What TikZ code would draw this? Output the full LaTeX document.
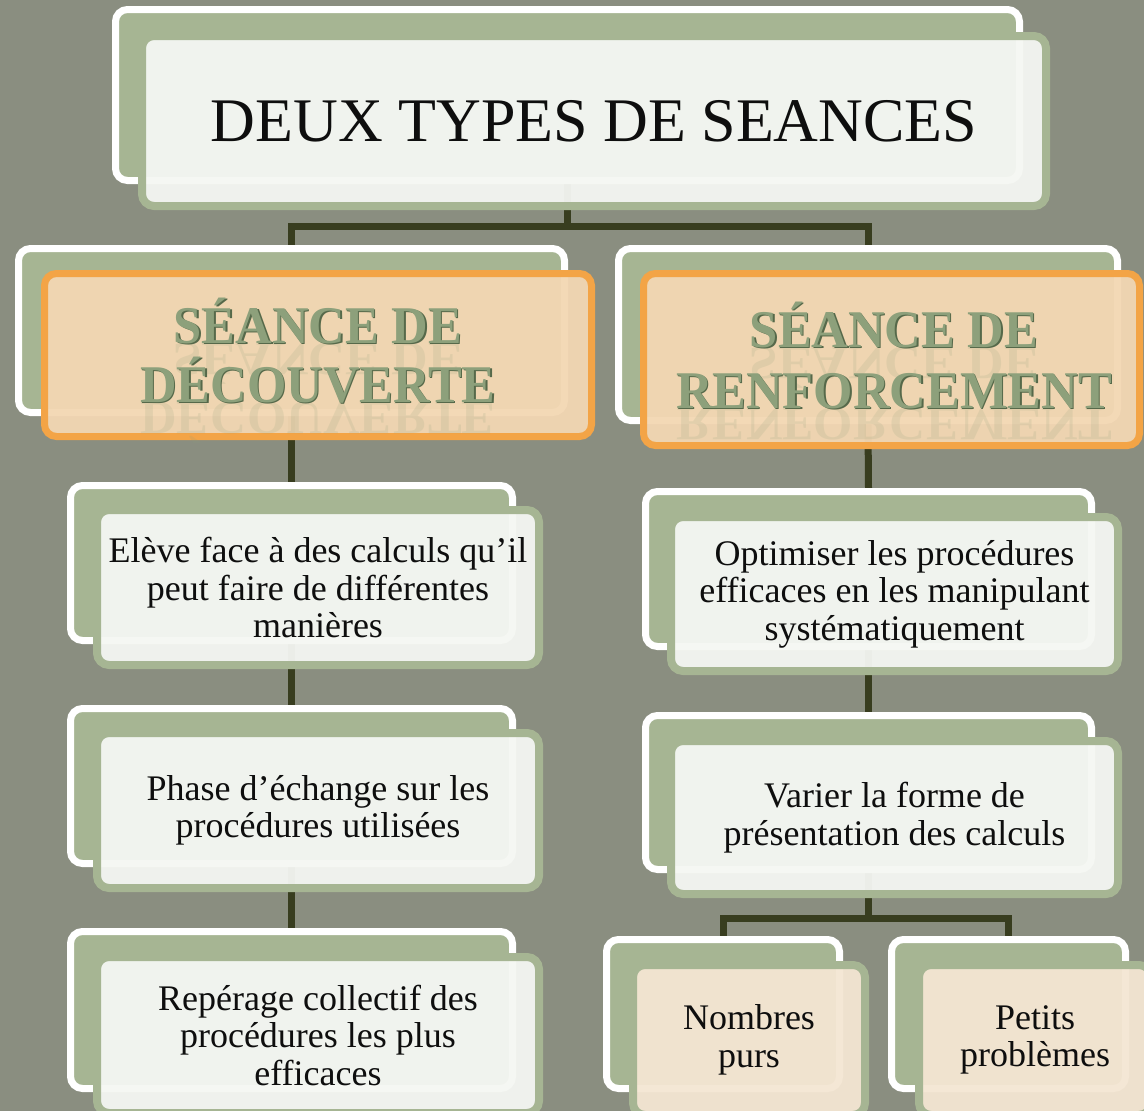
\documentclass[tikz,border=0pt]{standalone}
\usepackage{fontspec}
\setmainfont{Liberation Serif}
\usetikzlibrary{calc}
\definecolor{bgcol}{HTML}{8A8E80}
\definecolor{cardgreen}{HTML}{A6B593}
\definecolor{cardfill}{HTML}{F5F7F3}
\definecolor{orangeline}{HTML}{F3A446}
\definecolor{orangefill}{HTML}{F3D7B3}
\definecolor{beigefill}{HTML}{F4E6D3}
\definecolor{conncol}{HTML}{383D1F}
\definecolor{seancecol}{HTML}{8DA07B}
\definecolor{seancedark}{HTML}{56694A}
\definecolor{textcol}{HTML}{0E0E0E}
\pgfdeclarelayer{bglayer}
\pgfdeclarelayer{lineslayer}
\pgfsetlayers{bglayer,lineslayer,main}
\newcommand\seanceline[3]{%
  \node[seref] (#1r) at (#2) {\scalebox{0.955}[-0.9]{#3}};
  \node[seshadow] (#1s) at ($(#2)+(1.3,1.3)$) {\scalebox{0.955}[1]{#3}};
  \node[semain] (#1) at (#2) {\scalebox{0.955}[1]{#3}};
}
\begin{document}
\begin{tikzpicture}[x=1pt,y=-1pt,
  wh/.style 2 args={minimum width=#1pt, minimum height=#2pt},
  backcard/.style={draw=white, line width=7pt, fill=cardgreen, rounded corners=12pt, inner sep=0pt},
  frontcard/.style={draw=cardgreen, line width=8pt, fill=cardfill, fill opacity=0.95, text opacity=1,
    rounded corners=12pt, inner sep=0pt, align=center, text=textcol,
    font=\fontsize{36}{37.5}\selectfont},
  orangecard/.style={draw=orangeline, line width=7pt, fill=orangefill, fill opacity=0.95,
    rounded corners=12pt, inner sep=0pt},
  beigecard/.style={frontcard, fill=beigefill},
  sefont/.style={font=\fontsize{53}{60}\selectfont\bfseries, inner sep=0pt, anchor=base},
  semain/.style={sefont, text=seancecol},
  seshadow/.style={sefont, text=seancedark},
  seref/.style={sefont, text=seancecol, text opacity=0.16},
  conn/.style={draw=conncol, line width=7pt}
]
\path[use as bounding box] (0,0) rectangle (1144,1111);
\begin{pgfonlayer}{bglayer}
  \fill[bgcol] (0,0) rectangle (1144,1111);
\end{pgfonlayer}
\clip (0,0) rectangle (1144,1111);

% Title
\node[backcard, wh={904}{171}] (tb) at (567.5,95) {};
\node[frontcard, wh={904}{170}, font=\fontsize{62}{70}\selectfont] (tf) at (594,121) {DEUX TYPES DE SEANCES};

% Level 1 left
\node[backcard, wh={546}{164}] (lb) at (291.5,330.5) {};
\node[orangecard, wh={547}{163}] (lf) at (318,355) {};
\seanceline{lt1}{318,343}{SÉANCE DE}
\seanceline{lt2}{318,402}{DÉCOUVERTE}

% Level 1 right
\node[backcard, wh={499}{172}] (rb) at (868,334.5) {};
\node[orangecard, wh={496}{172}] (rf) at (891.5,359.5) {};
\seanceline{rt1}{894,347}{SÉANCE DE}
\seanceline{rt2}{894,408}{RENFORCEMENT}

% Left column
\node[backcard, wh={442}{155}] (lab) at (291.5,563) {};
\node[frontcard, wh={442}{155}] (laf) at (318,587.5) {Elève face à des calculs qu’il\\peut faire de différentes\\manières};
\node[backcard, wh={442}{155}] (lbb) at (291.5,786) {};
\node[frontcard, wh={442}{155}] (lbf) at (318,810.5) {Phase d’échange sur les\\procédures utilisées};
\node[backcard, wh={442}{157}] (lcb) at (291.5,1010) {};
\node[frontcard, wh={442}{156}] (lcf) at (318,1035) {Repérage collectif des\\procédures les plus\\efficaces};

% Right column
\node[backcard, wh={446}{155}] (rab) at (868.5,569) {};
\node[frontcard, wh={447}{154}] (raf) at (894.5,594) {Optimiser les procédures\\efficaces en les manipulant\\systématiquement};
\node[backcard, wh={446}{154}] (rbb) at (868.5,792.5) {};
\node[frontcard, wh={447}{153}] (rbf) at (894.5,817.5) {Varier la forme de\\présentation des calculs};

% Bottom small boxes
\node[backcard, wh={233}{149}] (nb) at (723,1014) {};
\node[beigecard, wh={232}{150}] (nf) at (749,1040) {Nombres\\purs};
\node[backcard, wh={234}{149}] (pb) at (1008.5,1014) {};
\node[beigecard, wh={232}{150}] (pf) at (1035,1040) {Petits\\problèmes};

% Connectors
\coordinate (tj) at (567.5,226);
\coordinate (rj) at (868.5,918);
\begin{pgfonlayer}{lineslayer}
  \draw[conn] (tb.south) -- (tj);
  \draw[conn] (lb.north) |- (tj) -| (rb.north);
  \draw[conn] (lb.south) -- (lab.north);
  \draw[conn] (lab.south) -- (lbb.north);
  \draw[conn] (lbb.south) -- (lcb.north);
  \draw[conn] (rb.south) -- (rab.north);
  \draw[conn] (rab.south) -- (rbb.north);
  \draw[conn] (rbb.south) -- (rj);
  \draw[conn] (nb.north) |- (rj) -| (pb.north);
\end{pgfonlayer}
\end{tikzpicture}
\end{document}
